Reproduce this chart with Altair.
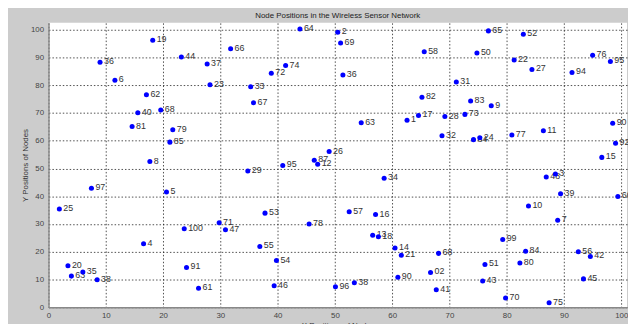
import altair as alt
import pandas as pd

labels = ["19", "36", "6", "62", "44", "37", "23", "66", "64", "2",
          "69", "74", "72", "36", "33", "67", "65", "52", "58", "50",
          "22", "27", "76", "95", "94", "31", "82", "83", "9", "40",
          "68", "81", "79", "85", "8", "97", "5", "25", "63", "1",
          "17", "28", "73", "32", "84", "24", "77", "11", "90", "92",
          "15", "3", "48", "39", "60", "10", "7", "26", "87", "12",
          "95", "29", "34", "53", "71", "47", "78", "57", "16", "55",
          "54", "13", "18", "14", "21", "90", "46", "96", "38", "61",
          "68", "02", "41", "99", "84", "80", "51", "43", "70", "75",
          "56", "42", "45", "100", "4", "91", "20", "63", "35", "38"]

x_pos = [18.2, 9.0, 11.6, 17.1, 23.2, 27.7, 28.2, 31.8, 43.9, 50.5,
         51.0, 41.4, 38.9, 51.4, 35.3, 35.8, 76.8, 82.9, 65.6, 74.8,
         81.3, 84.4, 95.0, 98.1, 91.4, 71.2, 65.2, 73.7, 77.3, 15.6,
         19.6, 14.6, 21.7, 21.2, 17.7, 7.5, 20.6, 1.9, 54.6, 62.6,
         64.6, 69.2, 72.7, 68.7, 74.2, 75.3, 80.9, 86.4, 98.5, 99.0,
         96.6, 88.5, 86.9, 89.4, 99.4, 83.8, 88.9, 49.0, 46.4, 47.0,
         40.9, 34.8, 58.6, 37.8, 29.8, 30.9, 45.5, 52.5, 57.1, 36.9,
         39.8, 56.6, 57.6, 60.5, 61.6, 61.0, 39.4, 50.1, 53.4, 26.2,
         68.1, 66.7, 67.7, 79.3, 83.3, 82.3, 76.2, 75.8, 79.8, 87.4,
         92.5, 94.6, 93.4, 23.7, 16.6, 24.1, 3.4, 4.0, 6.0, 8.5]

y_pos = [96.2, 88.3, 81.8, 76.6, 90.2, 87.7, 80.2, 93.2, 100.3, 99.1,
         95.2, 87.1, 84.3, 83.7, 79.5, 73.7, 99.6, 98.4, 92.1, 91.6,
         89.1, 85.7, 90.8, 88.6, 84.6, 81.2, 75.7, 74.3, 72.6, 70.1,
         71.1, 65.1, 64.0, 59.5, 52.5, 42.9, 41.5, 35.4, 66.5, 67.4,
         69.1, 68.7, 69.5, 61.8, 60.4, 61.1, 62.1, 63.6, 66.3, 59.1,
         54.0, 48.0, 46.9, 40.9, 39.9, 36.5, 31.3, 56.1, 53.0, 51.5,
         51.1, 49.1, 46.5, 33.9, 30.4, 27.9, 30.0, 34.4, 33.4, 21.9,
         16.8, 25.9, 25.4, 21.3, 18.7, 10.8, 7.7, 7.4, 8.8, 6.8,
         19.4, 12.5, 6.3, 24.4, 20.2, 15.9, 15.4, 9.4, 3.3, 1.6,
         20.0, 18.3, 10.2, 28.3, 22.9, 14.3, 14.9, 11.2, 12.7, 9.9]

ticks = [0, 10, 20, 30, 40, 50, 60, 70, 80, 90, 100]

df = pd.DataFrame({"label": labels, "x": x_pos, "y": y_pos})

xenc = alt.X("x:Q", scale=alt.Scale(domain=[0, 101], nice=False, zero=False),
             axis=alt.Axis(values=ticks, title="X Positions of Nodes", grid=True,
                           gridColor="#222", gridDash=[1.5, 2], gridOpacity=0.8,
                           domainColor="#888", domainWidth=1.5, ticks=False,
                           labelFontSize=8, labelColor="#444", labelPadding=4,
                           titleFontSize=8, titleFontWeight="normal", titleColor="#333",
                           titlePadding=3, labelFlush=False))
yenc = alt.Y("y:Q", scale=alt.Scale(domain=[0, 102.5], nice=False, zero=False),
             axis=alt.Axis(values=ticks, title="Y Positions of Nodes", grid=True,
                           gridColor="#222", gridDash=[1.5, 2], gridOpacity=0.8,
                           domainColor="#888", domainWidth=1.5, ticks=False,
                           labelFontSize=8, labelColor="#444", labelPadding=5,
                           titleFontSize=8, titleFontWeight="normal", titleColor="#333",
                           titlePadding=1, labelFlush=False))

base = alt.Chart(df)

pts = base.mark_circle(size=26, color="#0000ff", opacity=1).encode(x=xenc, y=yenc)
txt = base.mark_text(align="left", baseline="middle", dx=4, dy=-1, fontSize=9,
                     color="#333", font="Liberation Sans").encode(x=xenc, y=yenc, text="label:N")

chart = (txt + pts).properties(
    width=586, height=288,
    title=alt.TitleParams("Node Positions in the Wireless Sensor Network",
                          fontSize=8, fontWeight="normal", color="#222",
                          font="Liberation Sans", offset=3, anchor="middle"),
    background="#cccccc",
    padding={"left": 41, "top": 13, "right": 1, "bottom": 15},
    autosize=alt.AutoSizeParams(type="none"),
).configure_view(fill="white", stroke=None).configure_axis(
    labelFont="Liberation Sans", titleFont="Liberation Sans")

chart.save("out.html", embed_options={"renderer": "svg", "actions": False})
